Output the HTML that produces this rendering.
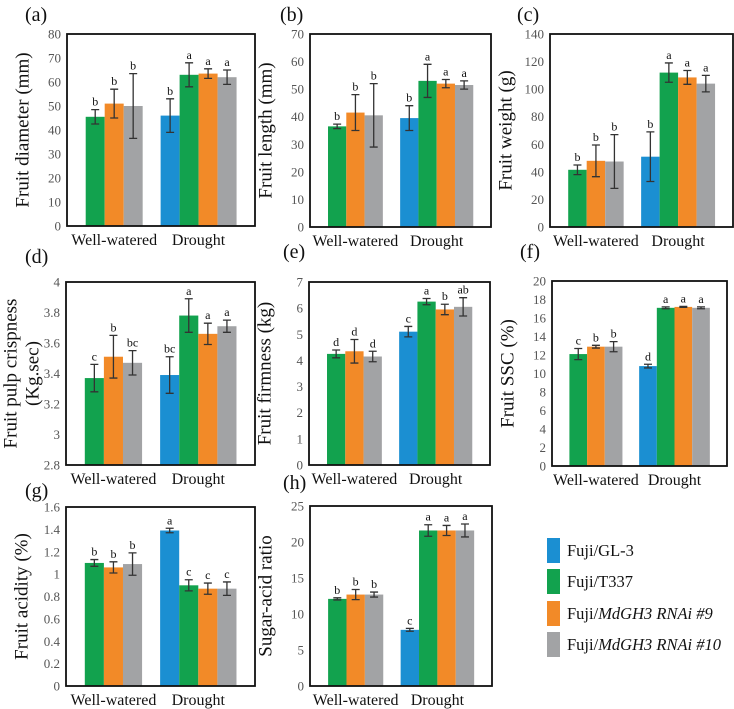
<!DOCTYPE html>
<html><head><meta charset="utf-8">
<style>
body{margin:0;background:#fff;}
svg{display:block;font-family:"Liberation Serif",serif;}
</style></head>
<body>
<svg id="fig" width="734" height="709" viewBox="0 0 734 709"></svg>
<script>
// data per panel: WW [green, orange, gray]; Drought [blue, green, orange, gray]
const aWW=[45.5,51,50], aWWe=[3,6,13.5], aWWl=['b','b','b'];
const aD=[46,63,63.5,62], aDe=[7,5,2,3], aDl=['b','a','a','a'];
const bWW=[36.5,41.5,40.5], bWWe=[0.8,6.5,11.5], bWWl=['b','b','b'];
const bD=[39.5,53,52,51.5], bDe=[4.5,6,1.5,1.5], bDl=['b','a','a','a'];
const cWW=[41.5,48,47.5], cWWe=[3.5,11.5,19.5], cWWl=['b','b','b'];
const cD=[51,112,108.5,104], cDe=[18,7,5,6], cDl=['b','a','a','a'];
const dWW=[3.37,3.51,3.47], dWWe=[0.09,0.14,0.08], dWWl=['c','b','bc'];
const dD=[3.39,3.78,3.66,3.71], dDe=[0.12,0.11,0.07,0.04], dDl=['bc','a','a','a'];
const eWW=[4.25,4.35,4.15], eWWe=[0.15,0.45,0.2], eWWl=['d','d','d'];
const eD=[5.1,6.25,5.95,6.05], eDe=[0.2,0.12,0.2,0.35], eDl=['c','a','b','ab'];
const fWW=[12.1,12.9,12.9], fWWe=[0.6,0.15,0.55], fWWl=['c','b','b'];
const fD=[10.8,17.1,17.2,17.1], fDe=[0.2,0.1,0.05,0.1], fDl=['d','a','a','a'];
const gWW=[1.1,1.06,1.09], gWWe=[0.03,0.05,0.1], gWWl=['b','b','b'];
const gD=[1.39,0.9,0.87,0.87], gDe=[0.02,0.05,0.05,0.06], gDl=['a','c','c','c'];
const hWW=[12.1,12.7,12.7], hWWe=[0.15,0.7,0.35], hWWl=['b','b','b'];
const hD=[7.8,21.6,21.6,21.6], hDe=[0.2,0.8,0.7,0.9], hDl=['c','a','a','a'];
const categories=['Well-watered','Drought'];
const seriesNames=['Fuji/GL-3','Fuji/T337','Fuji/MdGH3 RNAi #9','Fuji/MdGH3 RNAi #10'];
const colors=['#1b8fd2','#12a24e','#f28a28','#a2a3a5'];

const NS='http://www.w3.org/2000/svg';
const svg=document.getElementById('fig');
function mk(tag,attrs,parent){const e=document.createElementNS(NS,tag);for(const k in attrs)e.setAttribute(k,attrs[k]);(parent||svg).appendChild(e);return e;}

const panels=[
 {id:'a',x0:67,x1:255,y0:34,y1:226,min:0,max:80,step:10,dec:0,title:['Fruit diameter  (mm)'],lab:[25,14],WW:aWW,WWe:aWWe,WWl:aWWl,D:aD,De:aDe,Dl:aDl},
 {id:'b',x0:310,x1:491,y0:34,y1:227,min:0,max:70,step:10,dec:0,title:['Fruit length (mm)'],lab:[280,14],WW:bWW,WWe:bWWe,WWl:bWWl,D:bD,De:bDe,Dl:bDl},
 {id:'c',x0:550,x1:733,y0:34,y1:227,min:0,max:140,step:20,dec:0,title:['Fruit weight (g)'],lab:[517,14],WW:cWW,WWe:cWWe,WWl:cWWl,D:cD,De:cDe,Dl:cDl},
 {id:'d',x0:66,x1:255,y0:282,y1:465,min:2.8,max:4,step:0.2,dec:1,title:['Fruit pulp crispness','(Kg.sec)'],lab:[25,256],WW:dWW,WWe:dWWe,WWl:dWWl,D:dD,De:dDe,Dl:dDl},
 {id:'e',x0:309,x1:490,y0:282,y1:465,min:0,max:7,step:1,dec:0,title:['Fruit firmness (kg)'],lab:[283,251],WW:eWW,WWe:eWWe,WWl:eWWl,D:eD,De:eDe,Dl:eDl},
 {id:'f',x0:552,x1:727,y0:281,y1:466,min:0,max:20,step:2,dec:0,title:['Fruit SSC (%)'],lab:[520,251],WW:fWW,WWe:fWWe,WWl:fWWl,D:fD,De:fDe,Dl:fDl},
 {id:'g',x0:66,x1:255,y0:507,y1:686,min:0,max:1.6,step:0.2,dec:1,title:['Fruit acidity (%)'],lab:[25,490],WW:gWW,WWe:gWWe,WWl:gWWl,D:gD,De:gDe,Dl:gDl},
 {id:'h',x0:310,x1:492,y0:506,y1:686,min:0,max:25,step:5,dec:0,title:['Sugar-acid ratio'],lab:[283,482],WW:hWW,WWe:hWWe,WWl:hWWl,D:hD,De:hDe,Dl:hDl},
];

function fmt(v,dec){let s=v.toFixed(dec);if(dec>0)s=s.replace(/\.0$/,'');return s;}

panels.forEach(p=>{
 const g=mk('g',{});
 
 
 const W=p.x1-p.x0;
 const y=v=>p.y1-(v-p.min)/(p.max-p.min)*(p.y1-p.y0);
 const bw=W*0.101;
 const pl=mk('text',{x:p.lab[0],y:p.lab[1]+7,'font-size':20,fill:'#111'},g);pl.textContent='('+p.id+')';
 
 
 const n=Math.round((p.max-p.min)/p.step);
 for(let i=0;i<=n;i++){const v=p.min+i*p.step;
  const t=mk('text',{x:p.x0-6,y:y(v)+4.5,'font-size':13,fill:'#555','text-anchor':'end'},g);t.textContent=fmt(v,p.dec);
  
  }
 const cy=(p.y0+p.y1)/2;
 const tx=p.title.length>1?[p.x0-54,p.x0-32]:[p.x0-43];
 p.title.forEach((tt,i)=>{const t=mk('text',{x:tx[i],y:cy,'font-size':19,fill:'#111','text-anchor':'middle',transform:`rotate(-90 ${tx[i]} ${cy})`,'dominant-baseline':'middle'},g);t.textContent=tt;
  
  });
 const groups=[{c:p.x0+0.251*W,vals:p.WW,err:p.WWe,let:p.WWl,off:1,first:-1},{c:p.x0+0.70*W,vals:p.D,err:p.De,let:p.Dl,off:0,first:-1.5}];
 groups.forEach((gr,gi)=>{
  gr.vals.forEach((v,i)=>{
   const xl=gr.c+(gr.first+i)*bw-bw/2;
   const top=y(v), base=p.y1;
   const r=mk('rect',{x:xl,y:top,width:bw,height:base-top,fill:colors[i+gr.off]},g);
   
   
   const cx=xl+bw/2, e=gr.err[i], yt=y(v+e), yb=y(v-e);
   mk('path',{d:`M${cx} ${yt}V${yb}M${cx-4} ${yt}H${cx+4}M${cx-4} ${yb}H${cx+4}`,stroke:'#333','stroke-width':1.3,fill:'none'},g);
   const lt=mk('text',{x:cx,y:yt-4,'font-size':12,fill:'#111','text-anchor':'middle'},g);lt.textContent=gr.let[i];
   
   
  });
  const ct=mk('text',{x:gr.c,y:p.y1+19,'font-size':16,fill:'#111','text-anchor':'middle'},g);ct.textContent=categories[gi];
  
  
 });
 const fr=mk('rect',{x:p.x0,y:p.y0,width:W,height:p.y1-p.y0,fill:'none',stroke:'#111','stroke-width':1.8},g);
 
 
});

const lg=mk('g',{});


const ly=[550,581,613,644];
seriesNames.forEach((s,i)=>{
 const r=mk('rect',{x:547,y:ly[i]-12,width:13,height:25,fill:colors[i]},lg);
 
 
 const t=mk('text',{x:567,y:ly[i]+6,'font-size':16.5,fill:'#111'},lg);
 
 
 const m=s.match(/^(Fuji\/)(.*)$/);
 if(i<2){t.textContent=s;}else{
  const a=mk('tspan',{},t);a.textContent=m[1];
  const b=mk('tspan',{'font-style':'italic'},t);b.textContent=m[2];
 }
});
</script>
</body></html>
